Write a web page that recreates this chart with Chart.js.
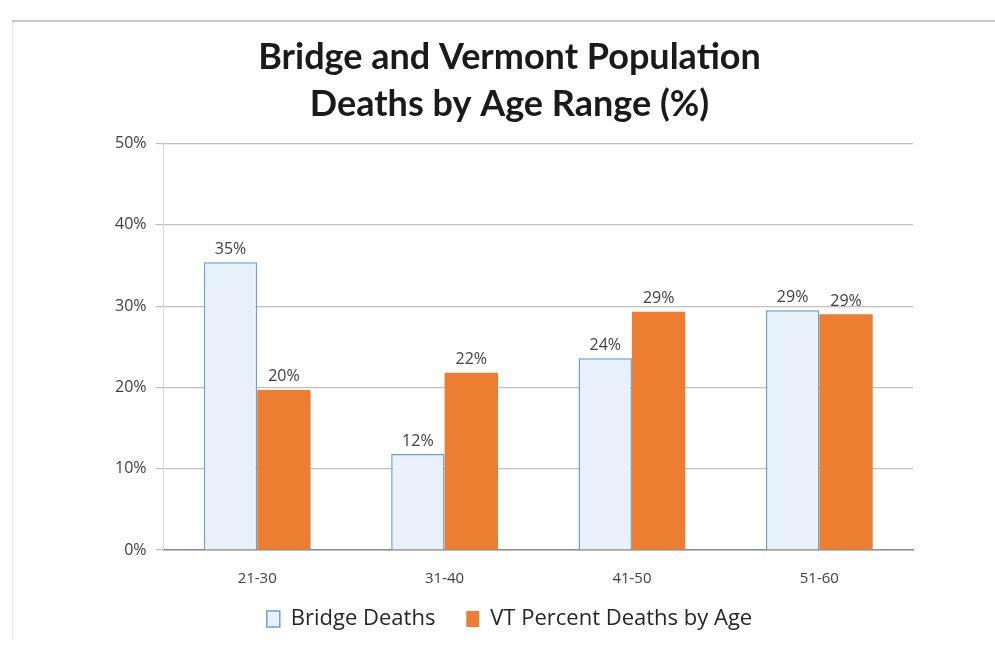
<!DOCTYPE html>
<html>
<head>
<meta charset="utf-8">
<script src="https://cdn.jsdelivr.net/npm/chart.js@4.4.0/dist/chart.umd.min.js"></script>
<style>
  html, body { margin: 0; padding: 0; background: #ffffff; }
  #wrap { position: relative; width: 995px; height: 649px; }
  #frame { position: absolute; left: 12px; top: 20px; width: 983px; height: 620px;
           border-top: 2px solid #c8c8c8; border-left: 1px solid #e0e0e0; box-sizing: border-box; }
  canvas { position: absolute; left: 0; top: 0; }
</style>
</head>
<body>
<div id="wrap">
  <div id="frame"></div>
  <canvas id="chart-canvas" width="995" height="649"></canvas>
</div>
<script>
const ageRanges = ["21-30", "31-40", "41-50", "51-60"];
const bridgeDeaths = [35.4, 11.8, 23.6, 29.5];
const vtDeaths = [19.7, 21.8, 29.3, 29.0];
const bridgeLabels = ["35%", "12%", "24%", "29%"];
const vtLabels = ["20%", "22%", "29%", "29%"];
const yTicks = [0, 10, 20, 30, 40, 50];

// draws the % labels above each bar
const barLabels = {
  id: "barLabels",
  afterDatasetsDraw(chart) {
    const ctx = chart.ctx;
    ctx.save();
    ctx.font = "16px 'Open Sans', sans-serif";
    ctx.fillStyle = "#404040";
    ctx.textAlign = "center";
    ctx.textBaseline = "bottom";
    chart.data.datasets.forEach((ds, i) => {
      const meta = chart.getDatasetMeta(i);
      meta.data.forEach((bar, j) => {
        ctx.fillText(ds.valueLabels[j], bar.x, bar.y - 5);
      });
    });
    ctx.restore();
  },
};

const ctx = document.getElementById("chart-canvas").getContext("2d");
const chart = new Chart(ctx, {
  type: "bar",
  data: {
    labels: ageRanges,
    datasets: [
      {
        label: "Bridge Deaths",
        data: bridgeDeaths,
        valueLabels: bridgeLabels,
        backgroundColor: "#e8f1fc",
        borderColor: "#6a9fd8",
        borderWidth: 1.5,
      },
      {
        label: "VT Percent Deaths by Age",
        data: vtDeaths,
        valueLabels: vtLabels,
        backgroundColor: "#ed7d31",
        borderColor: "#ed7d31",
        borderWidth: 0,
      },
    ],
  },
  options: {
    responsive: false,
    animation: false,
    layout: { padding: { left: 106, right: 82, top: 12, bottom: 9 } },
    datasets: { bar: { categoryPercentage: 0.57, barPercentage: 1.0 } },
    plugins: {
      title: {
        display: true,
        text: ["Bridge and Vermont Population", "Deaths by Age Range (%)"],
        font: { family: "Lato", size: 36, weight: "bold", lineHeight: 1.3 },
        color: "#1a1a1a",
        padding: { top: 22, bottom: 16 },
      },
      legend: {
        position: "bottom",
        labels: {
          font: { family: "'Open Sans', sans-serif", size: 22 },
          color: "#262626",
          boxWidth: 13,
          boxHeight: 16,
          padding: 8,
          // extra gap after the first entry, like the original legend
          generateLabels: (chart) => {
            const items = Chart.defaults.plugins.legend.labels.generateLabels(chart);
            items[0].text = items[0].text + "    ";
            return items;
          },
        },
      },
      tooltip: { enabled: false },
    },
    scales: {
      x: {
        grid: { display: false },
        border: { color: "#8c8c8c", width: 1.5 },
        ticks: { font: { family: "'Open Sans', sans-serif", size: 15 }, color: "#404040", padding: 12 },
      },
      y: {
        min: 0,
        max: 50,
        afterBuildTicks: (axis) => { axis.ticks = yTicks.map((v) => ({ value: v })); },
        grid: { color: "#c0c0c0", lineWidth: 1.2, drawTicks: true, tickLength: 8 },
        border: { color: "#d9d9d9" },
        ticks: {
          font: { family: "'Open Sans', sans-serif", size: 16 },
          color: "#404040",
          padding: 9,
          callback: (v) => v + "%",
        },
      },
    },
  },
  plugins: [barLabels],
});
</script>
</body>
</html>
